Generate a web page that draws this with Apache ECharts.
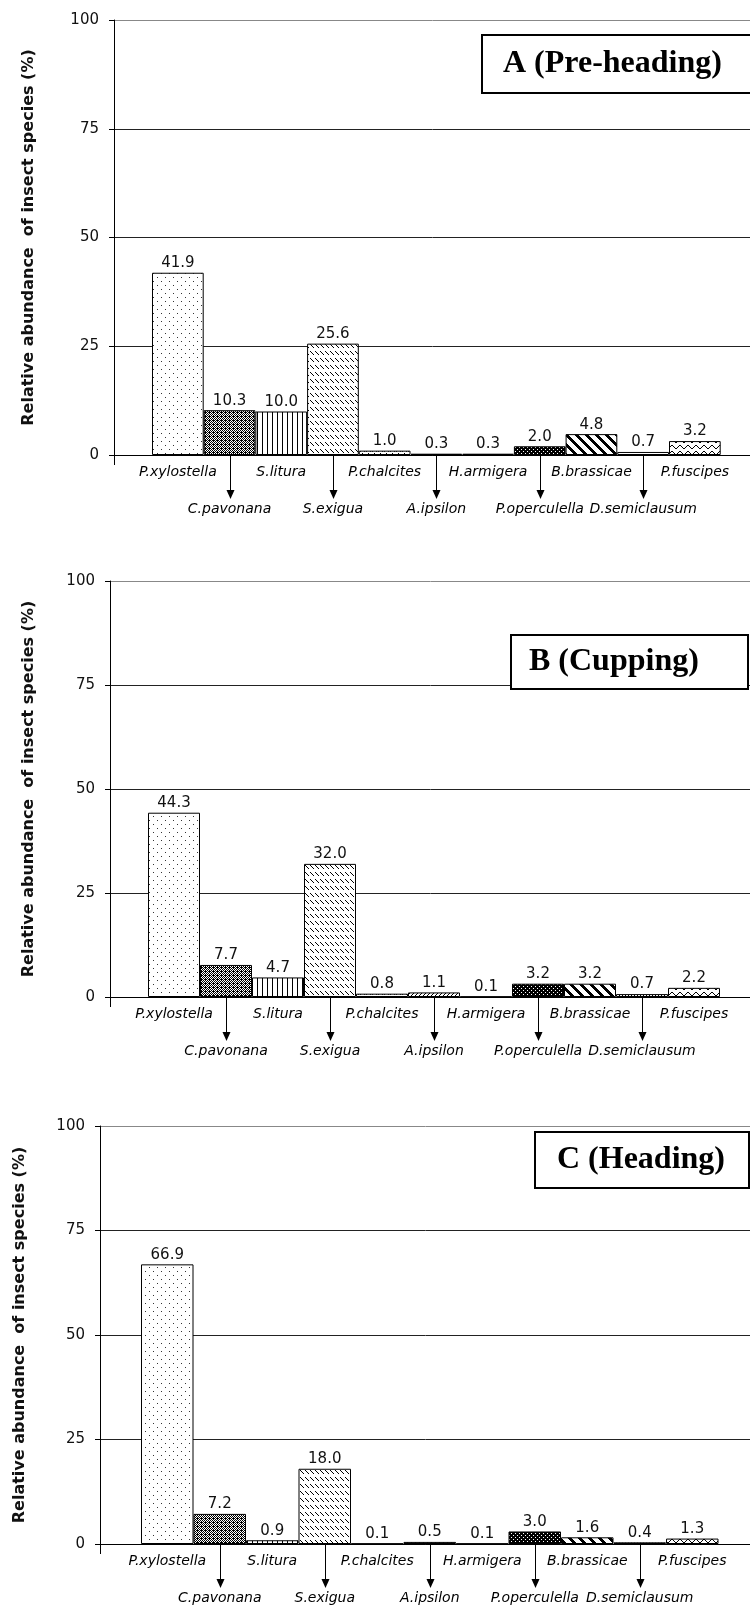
<!DOCTYPE html>
<html>
<head>
<meta charset="utf-8">
<title>Relative abundance of insect species</title>
<script src="https://cdn.jsdelivr.net/npm/echarts@6/dist/echarts.min.js"></script>
<style>
  html, body { margin: 0; padding: 0; background: #fff; }
  .panel { position: absolute; left: 0; width: 750px; }
</style>
</head>
<body>
<div id="panelA" class="panel" style="top:0;height:535px"></div>
<div id="panelB" class="panel" style="top:535px;height:535px"></div>
<div id="panelC" class="panel" style="top:1070px;height:540px"></div>
<script>
// species in the order they appear on the x axis
const species = ['P.xylostella', 'C.pavonana', 'S.litura', 'S.exigua', 'P.chalcites', 'A.ipsilon',
  'H.armigera', 'P.operculella', 'B.brassicae', 'D.semiclausum', 'P.fuscipes']

// relative abundance (%) per growth stage
const preHeading = [41.9, 10.3, 10.0, 25.6, 1.0, 0.3, 0.3, 2.0, 4.8, 0.7, 3.2]
const cupping = [44.3, 7.7, 4.7, 32.0, 0.8, 1.1, 0.1, 3.2, 3.2, 0.7, 2.2]
const heading = [66.9, 7.2, 0.9, 18.0, 0.1, 0.5, 0.1, 3.0, 1.6, 0.4, 1.3]

const yMin = 0
const yMax = 100
const yStep = 25
const yTitle = 'Relative abundance  of insect species (%)'

// hatch fills, one per species
const makePattern = (w, h, draw) => {
  const c = document.createElement('canvas')
  c.width = w
  c.height = h
  const g = c.getContext('2d')
  g.fillStyle = '#fff'
  g.fillRect(0, 0, w, h)
  g.fillStyle = '#000'
  draw(g)
  return { image: c, repeat: 'repeat' }
}
const dots = (g, pts) => pts.forEach(([x, y]) => g.fillRect(x, y, 1, 1))

const patterns = [
  makePattern(8, 8, g => { g.fillStyle = '#333'; dots(g, [[1, 1], [5, 5]]) }),
  makePattern(4, 4, g => {
    for (let y = 0; y < 4; y++) for (let x = 0; x < 4; x++) if ((x + y) % 2 === 0) dots(g, [[x, y]])
    dots(g, [[1, 0]])
  }),
  makePattern(5, 1, g => g.fillRect(2, 0, 1, 1)),
  makePattern(5, 7, g => dots(g, [[0, 1], [1, 2], [2, 3], [3, 4]])),
  makePattern(6, 4, g => dots(g, [[0, 3], [1, 2], [2, 1], [3, 2], [4, 3]])),
  makePattern(4, 4, g => dots(g, [[3, 0], [2, 1], [1, 2], [0, 3]])),
  makePattern(1, 3, g => g.fillRect(0, 0, 1, 1)),
  makePattern(4, 4, g => { g.fillRect(0, 0, 4, 4); g.fillStyle = '#fff'; dots(g, [[1, 1], [3, 3]]) }),
  makePattern(10, 10, g => {
    for (let y = 0; y < 10; y++) for (let x = 0; x < 10; x++) if (((x - y) % 10 + 10) % 10 < 4) dots(g, [[x, y]])
  }),
  makePattern(3, 3, g => dots(g, [[1, 1]])),
  makePattern(8, 6, g => dots(g, [[0, 1], [1, 2], [2, 3], [3, 4], [4, 4], [5, 3], [6, 2], [7, 1]]))
]

const buildPanel = (id, values, title, lay) => {
  const chart = echarts.init(document.getElementById(id))
  chart.setOption({
    animation: false,
    grid: [
      { left: lay.axisLeft, right: -20, top: lay.top, height: lay.height, outerBoundsMode: 'none' },
      { left: lay.barLeft, width: lay.barWidth * species.length, top: lay.top, height: lay.height, outerBoundsMode: 'none' }
    ],
    xAxis: [
      {
        gridIndex: 0, type: 'value', min: 0, max: 1, interval: 1,
        axisLine: { show: true, lineStyle: { color: '#000', width: 1 } },
        axisTick: { show: true, length: 10, lineStyle: { color: '#000' } },
        axisLabel: { show: false },
        splitLine: { show: false }
      },
      {
        gridIndex: 1, type: 'category', data: species,
        axisLine: { show: false },
        axisTick: { show: false },
        axisLabel: {
          interval: 0,
          margin: 8,
          fontFamily: 'DejaVu Sans',
          fontStyle: 'italic',
          fontSize: 14,
          lineHeight: 18.5,
          color: '#000',
          formatter: (v, i) => (i % 2 ? '\n\n' + v : v)
        }
      }
    ],
    yAxis: [
      {
        gridIndex: 0, type: 'value', min: yMin, max: yMax, interval: yStep,
        name: yTitle,
        nameLocation: 'middle',
        nameGap: lay.nameGap,
        nameTextStyle: { fontFamily: 'DejaVu Sans', fontWeight: 'bold', fontSize: 16, color: '#111' },
        axisLine: { show: true, lineStyle: { color: '#000' } },
        axisTick: { show: true, length: 5, lineStyle: { color: '#000' } },
        axisLabel: { margin: 15, fontFamily: 'DejaVu Sans', fontSize: 15, color: '#111' },
        splitLine: { show: true, lineStyle: { color: ['#000', '#222', '#222', '#222', '#888'], width: 1 } }
      },
      { gridIndex: 1, type: 'value', min: yMin, max: yMax, interval: yStep, show: false }
    ],
    series: [
      {
        type: 'bar',
        xAxisIndex: 1,
        yAxisIndex: 1,
        barCategoryGap: 0,
        itemStyle: { borderColor: '#000', borderWidth: 1 },
        label: {
          show: true,
          position: 'top',
          distance: 2,
          fontFamily: 'DejaVu Sans',
          fontSize: 15,
          color: '#111',
          formatter: p => p.value.toFixed(1)
        },
        data: values.map((v, i) => ({ value: v, itemStyle: { color: patterns[i] } }))
      }
    ]
  })

  // arrows pointing down to the second row of names
  const arrows = []
  species.forEach((name, i) => {
    if (i % 2 === 0) return
    const [x, y] = chart.convertToPixel({ gridIndex: 1 }, [i, 0])
    const cx = Math.round(x) + 0.5
    arrows.push({
      type: 'line', silent: true, z: 20,
      shape: { x1: cx, y1: y, x2: cx, y2: y + 36 },
      style: { stroke: '#000', lineWidth: 1 }
    })
    arrows.push({
      type: 'polygon', silent: true, z: 20,
      shape: { points: [[cx - 4, y + 35], [cx + 4, y + 35], [cx, y + 44]] },
      style: { fill: '#000' }
    })
  })

  chart.setOption({
    graphic: [
      {
        type: 'rect', z: 30,
        shape: { x: lay.box[0], y: lay.box[1], width: lay.box[2], height: lay.box[3] },
        style: { fill: '#fff', stroke: '#000', lineWidth: 2 }
      },
      {
        type: 'text', z: 31,
        x: lay.textX, y: lay.box[1] + lay.box[3] / 2,
        style: {
          text: title,
          fontFamily: 'Liberation Serif',
          fontWeight: 'bold',
          fontSize: 32,
          fill: '#000',
          verticalAlign: 'middle'
        }
      },
      ...arrows
    ]
  })
  return chart
}

buildPanel('panelA', preHeading, 'A (Pre-heading)', {
  top: 20, height: 435, axisLeft: 114, barLeft: 152, barWidth: 51.7, nameGap: 77,
  box: [482, 35, 300, 58], textX: 503
})
buildPanel('panelB', cupping, 'B (Cupping)', {
  top: 46, height: 416, axisLeft: 110, barLeft: 148, barWidth: 52, nameGap: 73,
  box: [511, 100, 237, 54], textX: 529
})
buildPanel('panelC', heading, 'C (Heading)', {
  top: 56, height: 418, axisLeft: 100, barLeft: 141, barWidth: 52.5, nameGap: 72,
  box: [535, 62, 214, 56], textX: 557
})
</script>
</body>
</html>
